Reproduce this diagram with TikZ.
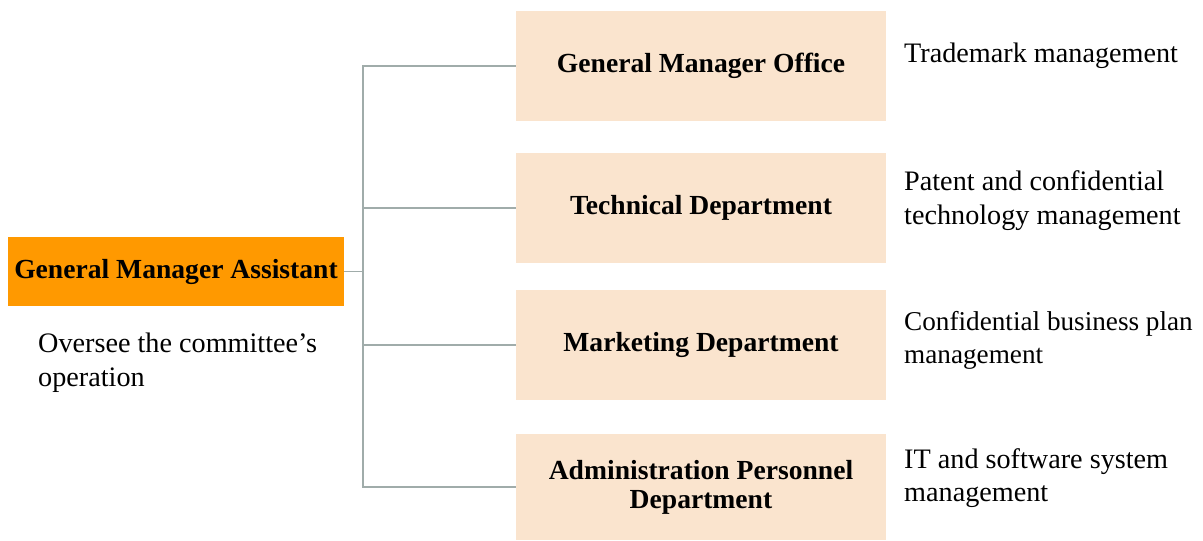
\documentclass[tikz,border=0pt]{standalone}
\usepackage{fontspec}
\setmainfont{Liberation Serif}
\definecolor{peach}{RGB}{250,228,206}
\definecolor{orng}{RGB}{255,153,0}
\definecolor{conn}{RGB}{160,172,170}
\begin{document}
\begin{tikzpicture}[x=1pt,y=-1pt,
  dept/.style={fill=peach,minimum width=370pt,minimum height=110pt,align=center,font=\fontsize{27.6}{29}\selectfont\bfseries,inner sep=0pt},
  lead/.style={fill=orng,minimum width=336pt,minimum height=69pt,font=\fontsize{27.6}{29}\selectfont\bfseries,inner sep=0pt},
  note/.style={anchor=base west,align=left,font=\fontsize{28.2}{33.5}\selectfont,inner sep=0pt},
  link/.style={draw=conn,line width=1.3pt}]
\useasboundingbox (0,0) rectangle (1203,541);
\node[lead] (gma) at (176,271.5) {General Manager Assistant};
\node[dept] (d1) at (701,66) {General Manager Office};
\node[dept] (d2) at (701,208) {Technical Department};
\node[dept] (d3) at (701,345) {Marketing Department};
\node[dept,minimum height=106pt] (d4) at (701,487) {Administration Personnel\\Department};
\coordinate (j) at (363,271.5);
\draw[link] (gma.east) -- (j);
\draw[link] (d1.west) -| (j) |- (d4.west);
\draw[link] (j |- d2.west) -- (d2.west);
\draw[link] (j |- d3.west) -- (d3.west);
\node[note] (n0) at (38,386) {Oversee the committee’s\\operation};
\node[note] (n1) at (904,62) {Trademark management};
\node[note] (n2) at (904,224) {Patent and confidential\\technology management};
\node[note,font=\fontsize{27.2}{33.5}\selectfont] (n3) at (904,363.5) {Confidential business plan\\management};
\node[note] (n4) at (904,501.5) {IT and software system\\management};
\end{tikzpicture}
\end{document}
